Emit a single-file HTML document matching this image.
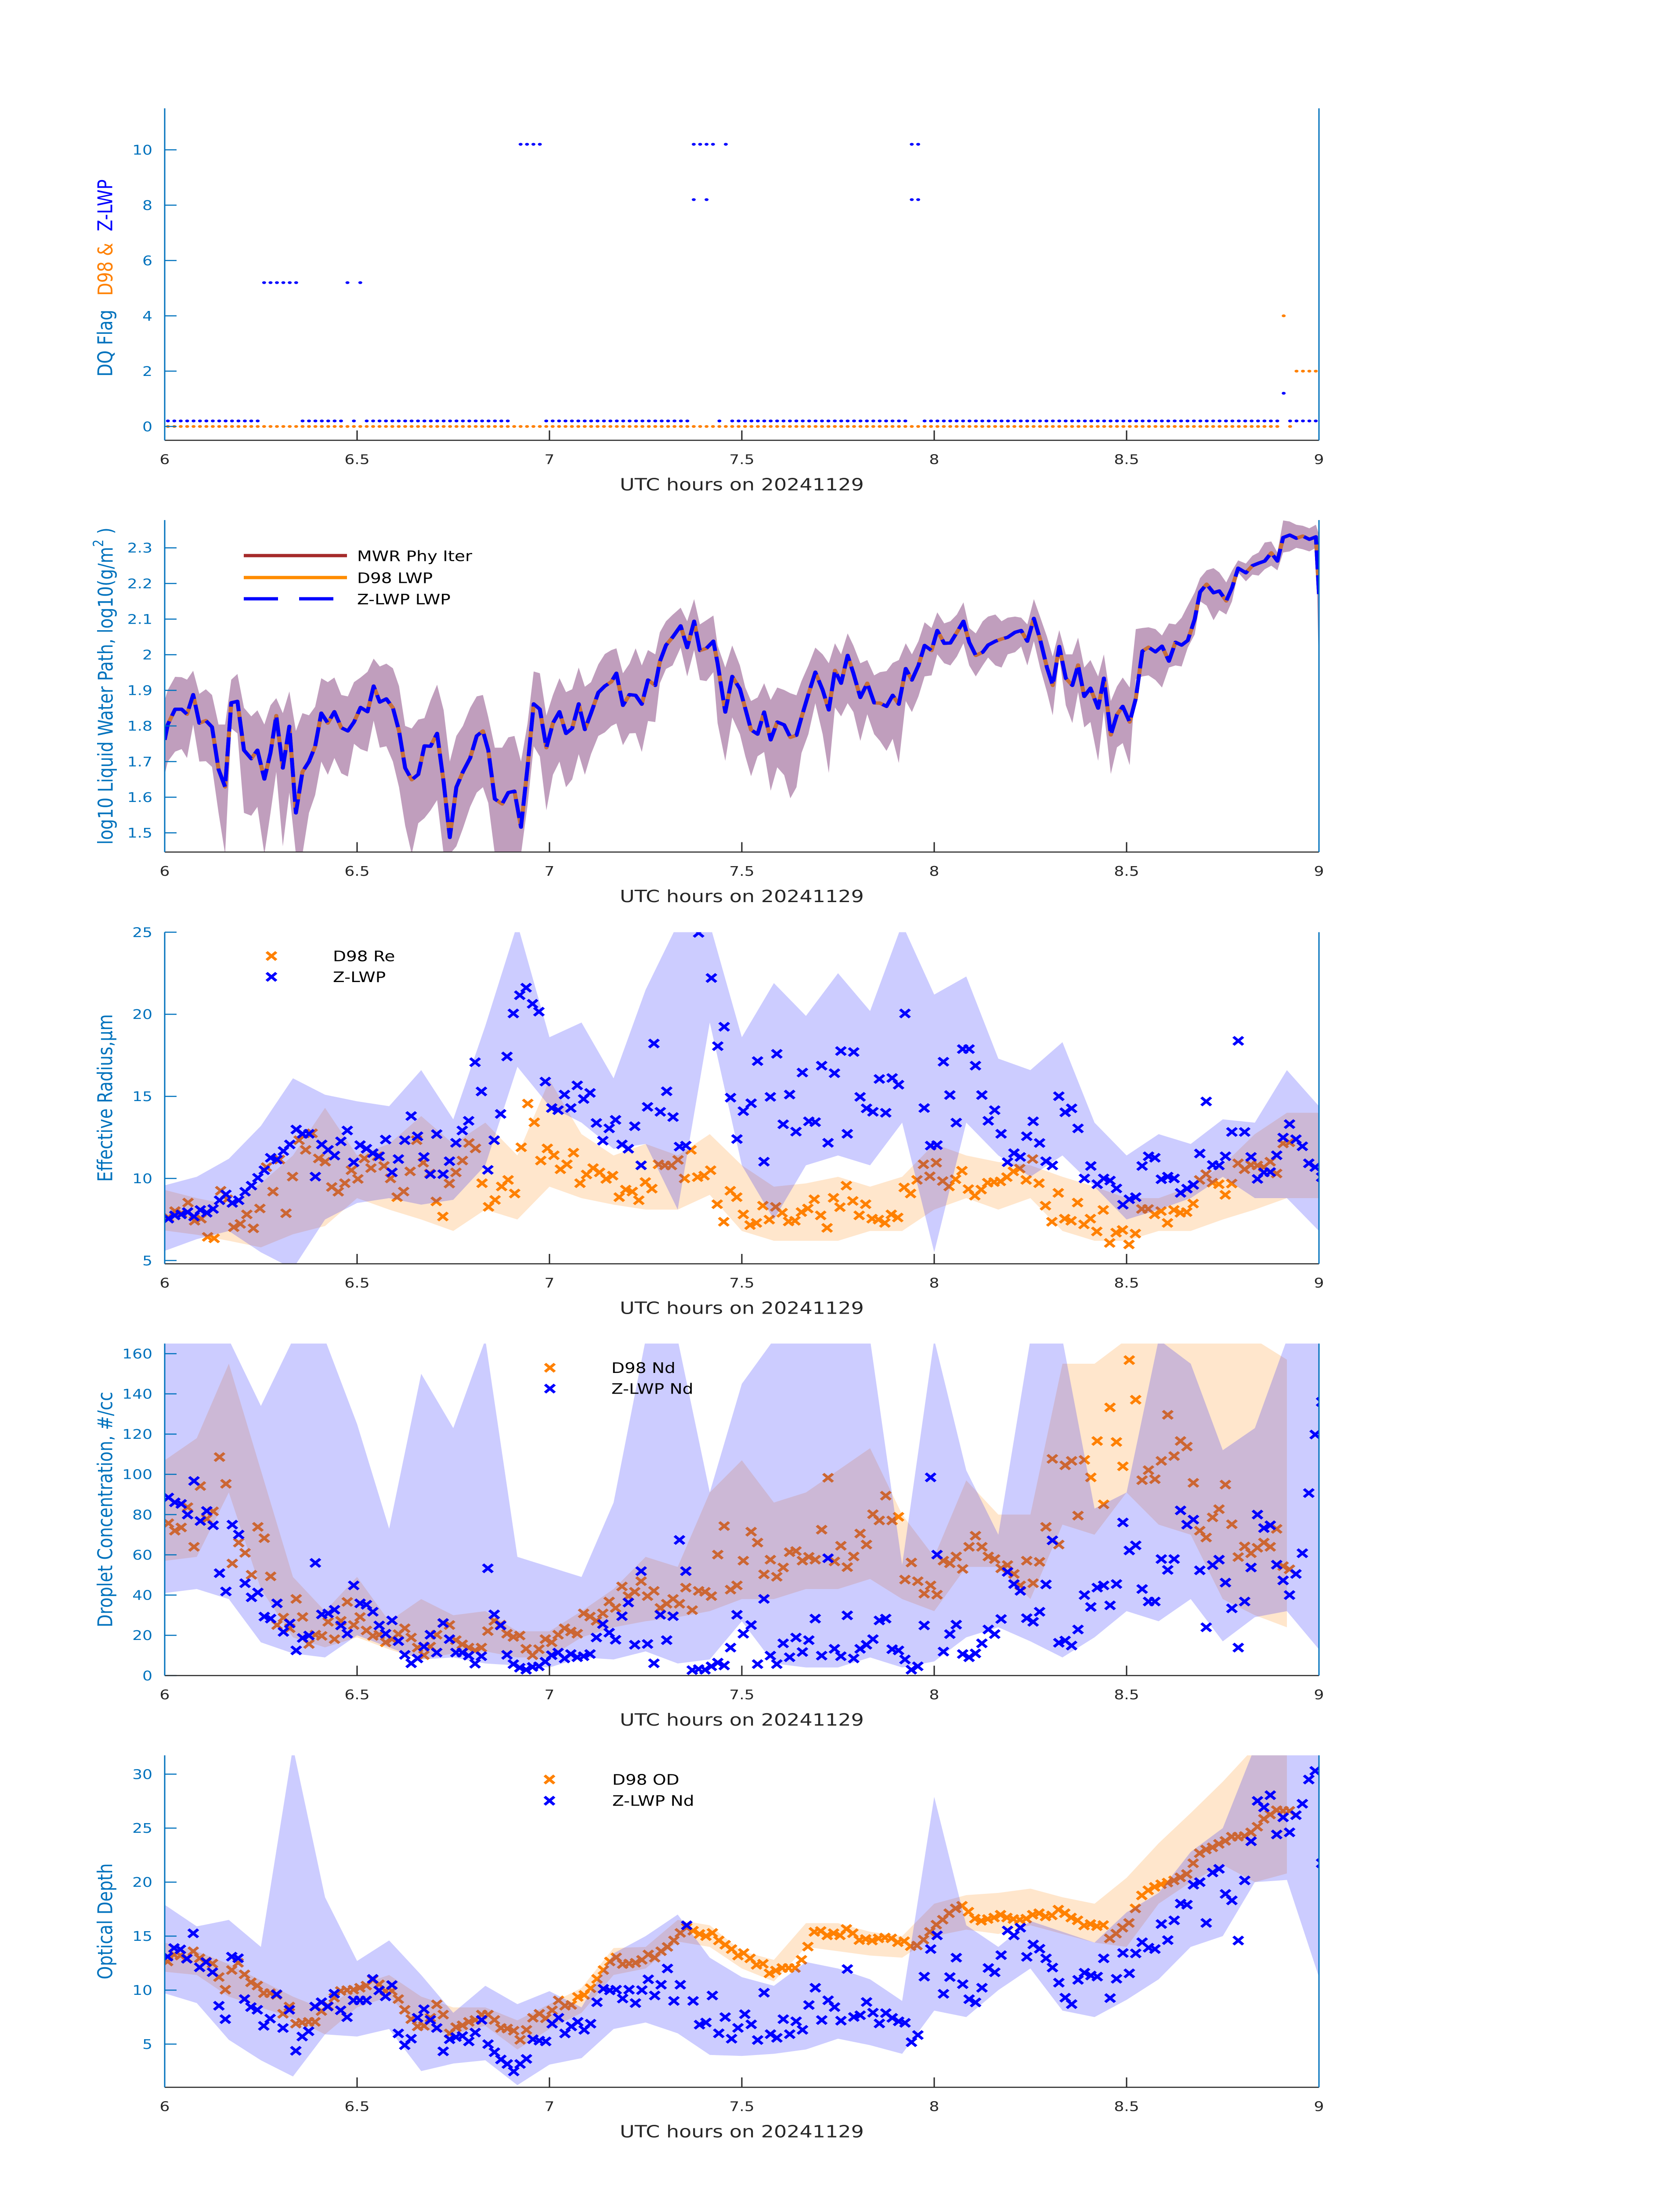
<!DOCTYPE html>
<html>
<head>
<meta charset="utf-8">
<style>
html,body{margin:0;padding:0;background:#ffffff;width:100%;height:100%;overflow:hidden;}
svg{display:block;width:100vw;height:100vh;}
text{font-family:"DejaVu Sans","Liberation Sans",sans-serif;}
</style>
</head>
<body>
<svg id="chart" viewBox="0 0 3825 6000" preserveAspectRatio="none" xmlns="http://www.w3.org/2000/svg"></svg>
<script>
// ---------------- DATA ----------------
const d98Flag = [0,0,0,0,0,0,0,0,0,0, 0,0,0,0,0,0,0,0,0,0, 0,0,0,0,0,0,0,0,0,0, 0,0,0,0,0,0,0,0,0,0,
0,0,0,0,0,0,0,0,0,0, 0,0,0,0,0,0,0,0,0,0, 0,0,0,0,0,0,0,0,0,0, 0,0,0,0,0,0,0,0,0,0,
0,0,0,0,0,0,0,0,0,0, 0,0,0,0,0,0,0,0,0,0, 0,0,0,0,0,0,0,0,0,0, 0,0,0,0,0,0,0,0,0,0,
0,0,0,0,0,0,0,0,0,0, 0,0,0,0,0,0,0,0,0,0, 0,0,0,0,0,0,0,0,0,0, 0,0,0,0,0,0,0,0,0,0,
0,0,0,0,0,0,0,0,0,0, 0,0,0,0, 4,0,2,2,2,2,4];
const zlwpFlag = [0,0,0,0,0,0,0,0,0,0, 0,0,0,0,0, 5,5,5,5,5,5, 0,0,0,0,0,0,0, 5,0,5,
0,0,0,0,0,0,0,0,0,0, 0,0,0,0,0,0,0,0,0,0, 0,0,0, null, 10,10,10,10,
0,0,0,0,0,0,0,0,0,0, 0,0,0,0,0,0,0,0,0,0, 0,0,0, 10,10,10,10, 0, 10,
0,0,0,0,0,0,0,0,0,0, 0,0,0,0,0,0,0,0,0,0, 0,0,0,0,0,0,0,0, 10,10,
0,0,0,0,0,0,0,0,0,0, 0,0,0,0,0,0,0,0,0,0, 0,0,0,0,0,0,0,0,0,0, 0,0,0,0,0,0,0,0,0,0,
0,0,0,0,0,0,0,0,0,0, 0,0,0,0,0,0, 1, 0,0,0,0,0, 1];
const zlwpFlagExtraIdx = [82,84,116,117];
const zlwpFlagExtraVal = [8,8,8,8];
const d98FlagExtraIdx = [180];
const d98FlagExtraVal = [2];

const lwpTime = [6.000,6.008,6.027,6.044,6.058,6.074,6.090,6.107,6.123,6.140,6.157,6.173,6.189,6.206,6.225,6.241,6.259,6.275,6.290,6.307,6.324,6.341,6.358,6.375,6.391,6.407,6.424,6.441,6.459,6.476,6.492,6.509,6.527,6.543,6.559,6.576,6.593,6.609,6.625,6.642,6.659,6.675,6.691,6.708,6.725,6.741,6.758,6.775,6.794,6.811,6.827,6.841,6.858,6.877,6.893,6.909,6.926,6.943,6.959,6.975,6.992,7.009,7.026,7.043,7.059,7.076,7.092,7.108,7.127,7.144,7.161,7.174,7.191,7.208,
7.224,7.240,7.256,7.275,7.287,7.303,7.320,7.341,7.358,7.376,7.391,7.408,7.426,7.437,7.457,7.475,7.495,7.509,7.524,7.541,7.558,7.575,7.592,7.610,7.626,7.642,7.655,7.673,7.691,7.710,7.726,7.742,7.758,7.775,7.790,7.808,7.826,7.844,7.859,7.876,7.892,7.908,7.926,7.942,7.959,7.975,7.993,8.008,8.026,8.042,8.059,8.076,
8.091,8.108,8.126,8.140,8.159,8.175,8.191,8.210,8.226,8.242,8.259,8.275,8.293,8.308,8.325,8.342,8.359,8.374,8.390,8.406,8.426,8.441,8.459,8.475,8.490,8.508,8.524,8.541,8.557,8.575,8.592,8.610,8.627,8.643,8.659,8.677,8.691,8.708,8.726,8.741,8.759,8.774,8.790,8.810,8.827,8.843,8.859,8.876,8.892,8.907,8.924,8.941,8.958,8.975,8.992,9.000];
const lwpD98 = [1.761,1.804,1.847,1.847,1.833,1.888,1.808,1.815,1.797,1.678,1.629,1.865,1.869,1.732,1.708,1.732,1.651,1.725,1.829,1.682,1.799,1.556,1.671,1.700,1.743,1.836,1.808,1.840,1.795,1.786,1.811,1.852,1.840,1.912,1.867,1.876,1.851,1.786,1.682,1.649,1.664,1.744,1.743,1.779,1.642,1.487,1.628,1.671,1.710,1.772,1.786,1.732,1.595,1.581,1.613,1.617,1.516,1.685,1.862,1.847,1.739,1.808,1.840,1.779,1.793,1.862,1.790,1.836,1.894,1.912,1.924,1.948,1.858,1.888,
1.886,1.861,1.929,1.914,1.981,2.027,2.049,2.081,2.020,2.094,2.012,2.018,2.038,1.976,1.839,1.939,1.904,1.849,1.789,1.777,1.839,1.761,1.811,1.803,1.768,1.774,1.824,1.889,1.951,1.901,1.845,1.956,1.920,1.998,1.948,1.880,1.920,1.865,1.864,1.855,1.886,1.861,1.961,1.929,1.970,2.026,2.012,2.068,2.032,2.033,2.063,2.094,
2.035,1.998,2.007,2.027,2.038,2.044,2.049,2.063,2.068,2.038,2.102,2.044,1.964,1.914,2.023,1.934,1.914,1.971,1.883,1.906,1.850,1.934,1.775,1.832,1.855,1.811,1.877,2.010,2.021,2.008,2.024,1.982,2.035,2.027,2.040,2.100,2.176,2.198,2.174,2.179,2.151,2.188,2.243,2.230,2.250,2.257,2.263,2.286,2.263,2.329,2.336,2.327,2.333,2.324,2.331,2.170];
const lwpZ = [1.761,1.804,1.847,1.847,1.833,1.888,1.808,1.815,1.797,1.678,1.629,1.865,1.869,1.732,1.708,1.732,1.651,1.725,1.829,1.682,1.799,1.556,1.671,1.700,1.743,1.836,1.808,1.840,1.795,1.786,1.811,1.852,1.840,1.912,1.867,1.876,1.851,1.786,1.682,1.649,1.664,1.744,1.743,1.779,1.642,1.487,1.628,1.671,1.710,1.772,1.786,1.732,1.595,1.581,1.613,1.617,1.516,1.685,1.862,1.847,1.739,1.808,1.840,1.779,1.793,1.862,1.790,1.836,1.894,1.912,1.924,1.948,1.858,1.888,
1.886,1.861,1.929,1.914,1.981,2.027,2.049,2.081,2.020,2.094,2.012,2.018,2.038,1.976,1.839,1.939,1.904,1.849,1.789,1.777,1.839,1.761,1.811,1.803,1.768,1.774,1.824,1.889,1.951,1.901,1.845,1.956,1.920,1.998,1.948,1.880,1.920,1.865,1.864,1.855,1.886,1.861,1.961,1.929,1.970,2.026,2.012,2.068,2.032,2.033,2.063,2.094,
2.035,1.998,2.007,2.027,2.038,2.044,2.049,2.063,2.068,2.038,2.102,2.044,1.964,1.914,2.023,1.934,1.914,1.971,1.883,1.906,1.850,1.934,1.775,1.832,1.855,1.811,1.877,2.010,2.021,2.008,2.024,1.982,2.035,2.027,2.040,2.100,2.176,2.198,2.174,2.179,2.151,2.188,2.243,2.230,2.250,2.257,2.263,2.286,2.263,2.329,2.336,2.327,2.333,2.324,2.331,2.170];
const lwpUpper = [1.872,1.901,1.938,1.937,1.930,1.955,1.890,1.903,1.887,1.804,1.804,1.930,1.946,1.851,1.827,1.844,1.804,1.858,1.878,1.836,1.897,1.786,1.836,1.830,1.854,1.934,1.923,1.936,1.887,1.883,1.923,1.936,1.952,1.989,1.967,1.975,1.962,1.912,1.800,1.793,1.818,1.822,1.872,1.916,1.844,1.700,1.772,1.800,1.851,1.883,1.887,1.825,1.739,1.739,1.768,1.772,1.700,1.807,1.953,1.948,1.829,1.887,1.934,1.895,1.903,1.964,1.910,1.923,1.973,2.002,2.013,2.018,1.948,1.975,
2.018,1.970,2.013,2.001,2.063,2.094,2.112,2.132,2.094,2.156,2.085,2.097,2.110,2.026,1.964,2.026,1.970,1.908,1.870,1.880,1.920,1.873,1.908,1.901,1.892,1.886,1.926,1.970,2.020,2.001,1.976,2.032,2.001,2.060,2.026,1.976,1.985,1.942,1.951,1.954,1.977,1.985,2.032,2.001,2.038,2.091,2.075,2.119,2.088,2.094,2.113,2.147,
2.075,2.060,2.094,2.107,2.113,2.094,2.104,2.107,2.104,2.085,2.156,2.107,2.051,1.995,2.069,2.001,2.001,2.048,1.964,1.985,1.939,2.001,1.870,1.911,1.936,1.908,2.072,2.075,2.077,2.072,2.054,2.088,2.085,2.104,2.138,2.175,2.215,2.237,2.243,2.231,2.203,2.236,2.265,2.256,2.278,2.287,2.315,2.318,2.287,2.377,2.374,2.365,2.362,2.355,2.365,2.337];
const lwpLower = [1.663,1.700,1.728,1.735,1.710,1.804,1.700,1.701,1.685,1.556,1.440,1.793,1.779,1.556,1.548,1.573,1.440,1.556,1.671,1.462,1.613,1.440,1.440,1.556,1.606,1.700,1.663,1.710,1.667,1.658,1.750,1.735,1.728,1.815,1.739,1.743,1.700,1.628,1.520,1.440,1.527,1.541,1.563,1.592,1.440,1.440,1.462,1.512,1.573,1.613,1.628,1.584,1.440,1.440,1.440,1.440,1.440,1.577,1.743,1.714,1.563,1.663,1.700,1.628,1.650,1.721,1.663,1.721,1.772,1.782,1.800,1.807,1.746,1.779,
1.780,1.727,1.814,1.811,1.920,1.960,1.970,2.020,1.939,2.013,1.929,1.926,1.951,1.808,1.702,1.824,1.777,1.715,1.659,1.715,1.727,1.618,1.684,1.662,1.597,1.628,1.724,1.777,1.864,1.777,1.668,1.852,1.827,1.864,1.839,1.758,1.833,1.777,1.758,1.730,1.764,1.696,1.870,1.839,1.883,1.939,1.942,2.001,1.976,1.970,1.995,2.032,
1.970,1.939,1.970,1.992,1.970,1.964,2.001,2.007,2.023,1.970,2.038,1.964,1.895,1.830,1.995,1.858,1.808,1.895,1.796,1.811,1.702,1.842,1.665,1.740,1.752,1.690,1.932,1.939,1.942,1.929,1.908,1.964,1.970,1.967,2.020,2.057,2.150,2.138,2.097,2.125,2.113,2.150,2.231,2.206,2.225,2.222,2.240,2.250,2.237,2.287,2.290,2.300,2.296,2.290,2.300,1.950];

const reD98A = [7.62,8.01,7.88,8.53,7.42,7.55,6.44,6.35,9.25,8.73,7.03,7.23,7.81,6.96,8.17,10.69,9.20,11.15,7.88,10.11,12.33,11.74,12.75,11.22,11.02,9.48,9.19,9.71,10.50,9.97,11.22,10.63,11.35,10.76,10.00,8.86,9.20,10.43,12.33,10.96,10.30,8.60,7.68,9.69,10.37,11.09,12.16,11.83,9.71,8.27,8.69,9.51,9.91,9.08,11.90,14.56,13.42,11.09,11.83,11.41,10.56,10.86,11.57,9.71,10.24,10.63,10.37,9.97,10.17,8.86,9.32,9.20,8.67,9.78,9.38,10.86,10.79,10.79,11.13,10.00,11.74,10.08,10.17,10.50,8.43,7.36,9.25,8.86,7.81];
const reD98B = [7.16,7.29,8.34,7.49,8.27,7.91,7.38,7.42,7.95,8.17,8.73,7.75,6.99,8.82,8.25,9.56,8.63,7.75,8.43,7.55,7.49,7.29,7.81,7.62,9.45,9.08,9.91,10.86,10.13,10.96,9.84,9.51,9.95,10.47,9.35,8.95,9.32,9.74,9.78,9.82,10.08,10.43,10.60,9.91,11.18,9.71,8.34,7.36,9.12,7.55,7.42,8.53,7.20,7.55,6.77,8.08,6.07,6.70,6.86,5.98,6.64,8.14,8.14,7.81,8.01,7.29,8.08,7.91,7.95,8.47,9.91,10.26,9.74,9.65,9.00,9.69,10.92,10.56,10.82,10.79,10.69,11.02,10.30,12.13,12.20];
const reZA = [7.55,7.75,7.81,7.95,7.68,8.08,7.91,8.14,8.67,9.03,8.51,8.67,9.19,9.56,10.04,10.50,11.26,11.15,11.67,12.07,12.98,12.72,12.72,10.11,12.07,11.74,11.39,12.26,12.92,10.98,12.03,11.81,11.54,11.35,12.37,10.37,11.18,12.33,13.80,12.57,11.31,10.26,12.70,10.26,11.05,12.17,12.92,13.51,17.08,15.30,10.52,12.33,13.93,17.43,20.05,21.16,21.62,20.64,20.16,15.90,14.29,14.16,15.11,14.29,15.67,14.84,15.21,13.38,12.30,13.05,13.57,12.07,11.81,13.18,10.80,14.36,18.22,14.06,15.31,13.74,11.94,12.00,null,24.96,null,22.21,18.06,19.24,14.92,12.40,14.10];
const reZB = [14.58,17.15,11.02,14.97,17.59,13.30,15.11,12.85,16.45,13.48,13.43,16.87,12.17,16.41,17.76,12.72,17.70,14.97,14.27,14.06,16.06,14.00,16.12,15.71,20.05,null,null,14.29,12.00,12.03,17.11,15.08,13.40,17.88,17.88,16.87,15.08,13.51,14.16,12.72,10.99,11.54,11.31,12.57,13.48,12.16,11.05,10.79,15.01,14.03,14.27,13.05,10.00,10.76,9.65,10.00,9.87,9.39,8.40,8.73,8.86,10.76,11.35,11.26,9.95,10.11,10.00,9.12,9.38,9.61,11.52,14.69,10.82,10.79,11.35,12.83,18.38,12.83,11.31,9.97,10.37,10.39,11.41,12.49,13.31,12.39,11.96,10.92,10.69,10.08];
const reD98Up = [9.3,8.8,8.4,9.7,11.4,14.3,11.4,12.1,13.8,12.1,13.4,11.4,16,12.7,11.4,12.1,11.4,12.7,10.8,9.5,9.7,10.1,9.5,10.1,12.1,11.4,11.0,10.8,10.1,9.5,8.8,8.8,9.5,10.8,12.7,14,14];
const reD98Lo = [6.83,6.57,6.2,5.8,6.6,7.1,8.8,8.1,7.5,6.8,8.1,7.5,9.5,8.8,8.4,8.1,8.1,9.0,6.8,6.2,6.2,6.2,6.8,6.8,8.1,8.8,8.1,8.8,6.8,6.2,6.2,6.8,6.8,7.5,8.1,8.8,8.8];
const reZUp = [9.58,10.1,11.2,13.2,16.1,15.1,14.7,14.4,16.6,13.6,19.3,25.5,18.6,19.5,16.1,21.5,25.5,25.5,18.6,21.9,19.9,22.5,20.2,25.5,21.2,22.3,17.3,16.6,18.3,13.4,11.4,12.7,12.1,13.6,13.4,16.6,14.4];
const reZLo = [5.59,6.3,6.8,5.5,4.5,7.5,8.5,8.8,8.4,8.7,10.8,16.8,14.4,13.4,11.8,12.1,8.1,19.5,10.8,7.5,10.8,11.4,10.8,13.4,5.5,13.4,11.4,10.1,11.4,9.5,7.5,8.1,8.8,10.1,8.8,8.8,6.8];

const ndD98A = [75.7,72,73.6,83.7,64,94.2,77.9,81.6,108.6,95.3,55.7,66.1,61,50.1,73.9,68.3,49.3,25.1,28.8,23.5,38.1,29.1,15.7,20.3,19.7,26.7,18.1,27.2,36.6,25.1,29.1,22.4,19.7,20.3,16.5,18.1,20.6,23.5,18.9,13.9,10.1,14.4,20.3,26.1,25.1,17.6,15.5,13.9,12.5,13.9,22.1,27.2,25.3,20.8,19.2,19.9,13.3,10.1,13.1,18.1,16.5,20.3,23.5,21.9,20.8,30.9,29.3,27.2,30.9,36.8,33.6,44.3,39.5,41.6,46.9,39.5,42.1,33.6,35.7,38.1,35.7,43.7,32.5,42.1,41.6,39.5,60.1,74.3,42.7,44.8,57.1];
const ndD98B = [71.5,66.1,50.3,57.6,49.1,53.7,61.3,61.9,57.1,59,57.6,72.5,98.3,56.7,64.5,53.9,59.2,70.6,65.1,80.2,77.1,89.4,77.1,78.9,47.7,56.2,46.9,40.7,44.8,40.2,57.1,55.8,59.2,53,64,69.5,64,59.2,57.9,53.3,54.9,50.5,44.8,57.1,45.9,56.5,73.9,107.7,65.1,104.5,106.7,79.5,107.2,98.5,116.6,85.1,133.3,116.1,104,156.8,137.1,97.1,102.1,97.6,106.7,129.6,109.1,116.6,113.8,95.8,72,68.6,78.6,82.7,94.9,75.2,58.9,64.2,60.8,63.5,66.1,64,72.9,54.4,52.8];
const ndZA = [88.5,86.1,85.3,80,96.7,76.8,81.8,74.7,50.9,41.8,75,70.1,45.9,38.9,41.3,29.3,28.3,35.9,21.7,25.9,12.5,18.7,19.9,56,30.4,30.9,32.7,24.9,20.8,44.8,35.9,35.2,31.7,24.9,20.8,27.4,17.1,10.3,6.1,8.5,14.4,20.3,11.4,26.1,18.1,11.4,11.4,9.9,5.9,9.6,53.3,30.4,24.9,10.3,5.7,3.9,2.9,4.3,4.6,6.9,10.1,11.4,8.5,10.7,9.1,9.6,10.7,18.9,25.6,21.3,17.8,29.5,36.3,15.3,51.9,15.7,6.1,30.2,17.6,29.5,67.4,51.9,2.7,3.2,2.9,4.6,6.4,5,13.9,30.2,20.8];
const ndZB = [25.1,5.7,38.1,9.9,5.7,16,9.1,18.9,11.7,17.6,28.3,9.9,58.3,13.3,9.6,29.9,8.5,13.3,15.3,18.1,27.4,28.3,13.1,12.5,8,2.9,4.6,24.9,98.5,60.1,11.9,20.6,25.3,10.7,9.1,11,16,22.9,20.6,28.1,51.5,45.5,42.1,28.5,26.7,31.7,45.3,67.2,16.3,17.4,14.9,22.9,40,34.1,43.7,44.8,34.9,45.5,76.1,62.2,64.7,43,36.8,36.8,57.9,52.5,57.9,82.1,75,77.5,52.3,24,54.9,57.6,46.2,33.4,13.9,36.8,53.7,80,73.3,74.7,55.1,47.3,40,50.5,60.8,90.7,119.8,136];
const ndD98Up = [107,118,155,102,49,32,49,27,38,30,32,22,22,32,43,59,54,91,107,86,91,102,113,80,59,97,80,80,155,155,170,170,170,170,170,157,null];
const ndD98Lo = [57,59,91,43,19,14,19,13,8,11,12,9,9,19,24,27,29,32,38,38,43,43,48,38,32,54,54,38,75,70,91,75,70,38,30,24,null];
const ndZUp = [170,170,170,134,170,170,125,73,150,123,170,59,54,49,86,170,170,91,145,170,170,170,170,55,170,102,70,170,170,83,91,170,155,112,123,170,170];
const ndZLo = [41,43,38,16.5,11,9,20,14,8,9,6,5,4,9,8,12,6,8,27,6,4,4,9,4,7,19,24,17,9,19,32,27,38,17,29,32,13];

const odD98A = [12.65,13.28,13.2,12.95,13.6,12.95,12.65,12.46,11.21,10.04,11.86,12.53,11.46,10.72,10.42,9.72,9.72,9.55,7.81,8.48,6.89,6.99,7.06,7.06,8.06,8.55,9.3,9.92,10,10.04,10.22,10.42,10.96,10.54,9.92,9.92,9.17,8.18,7.31,6.64,6.69,7.44,8.68,7.73,5.99,6.57,6.74,7.06,7.24,7.73,7.73,7.24,6.49,6.44,6.24,5.4,6.32,7.44,7.81,7.39,8.13,9.05,8.55,8.63,9.37,9.55,10.17,11.04,11.86,12.65,13.03,12.41,12.46,12.53,12.8,13.3,13.0,13.6,14.0,14.6,15.3,15.8,15.5,15.2,15.0,15.3,14.6,14.2,13.8,13.2];
const odD98B = [13.44,12.94,12.34,12.44,11.55,11.81,12.05,12.05,12.05,12.8,14.03,15.39,15.47,15.07,15.27,15.07,15.66,15.27,14.63,14.73,14.59,14.79,14.87,14.79,14.43,14.53,14.07,14.13,14.67,15.39,16.06,16.52,17.12,17.57,17.81,17.26,16.62,16.42,16.58,16.72,16.98,16.72,16.58,16.52,16.62,16.98,17.12,16.82,16.92,17.45,17.12,16.72,16.46,15.98,16.12,15.92,16.02,14.79,15.23,15.78,16.22,17.57,18.77,19.24,19.56,19.8,19.96,20.16,20.44,20.75,21.75,22.68,23.02,23.22,23.54,23.82,24.21,24.21,24.27,24.61,25.13,25.86,26.26,26.66,26.6,26.6];
const odZA = [13.1,13.9,13.77,12.9,15.26,12.11,12.6,11.66,8.55,7.31,13.1,12.95,9.17,8.43,8.18,6.69,7.36,9.62,6.49,8.18,4.38,5.7,6.19,8.48,8.88,8.48,9.67,8.13,7.49,9.05,9.05,9.05,11.04,9.97,9.42,10.47,5.99,4.9,5.5,7.44,8.23,7.24,6.49,4.33,5.45,5.65,5.75,5.25,6.07,7.24,5,4.25,3.58,3.16,2.47,3.16,3.63,5.45,5.32,5.25,6.89,7.44,5.99,6.64,7.06,6.32,6.89,8.88,10.12,9.97,10.04,9.22,10.04,8.8,10.0,11.0,9.5,10.5,12.0,9.0,10.5,16.0,9.0,6.8,7.0,9.5,6.0,7.5,5.5,6.5];
const odZB = [7.77,6.83,5.38,9.76,5.92,5.58,7.31,5.92,7.11,6.32,8.62,10.22,7.23,9.06,8.43,7.17,11.95,7.51,7.67,8.9,7.91,6.91,7.87,7.43,7.11,6.97,5.18,5.84,11.25,13.8,15.07,9.66,11.21,13,10.55,9.16,8.86,10.22,12.05,11.65,13.24,15.52,15.07,15.78,13.08,14.23,13.83,12.94,12.09,10.69,9.3,8.7,10.95,11.61,11.35,11.25,12.94,9.26,11.05,13.44,11.55,13.4,14.43,13.93,13.8,16.12,14.63,16.46,18.01,17.91,19.76,20,16.22,20.89,21.23,18.91,18.31,14.59,20.16,23.78,27.52,26.92,28.05,24.41,26,24.61,26.2,27.26,29.5,30.3,21.75];
const odD98Up = [14.4,13.6,12.4,10.9,9.4,8.2,10.4,11.4,9.4,8.4,8.4,7.2,8.7,10.2,13.9,14,16.5,16,13.6,12.8,16.2,16.2,15.4,15,18,18.8,19,19.4,18.6,18,20.4,23.6,26.4,29.3,32.5,32.5,null];
const odD98Lo = [11.7,11.4,9.4,8.4,7.4,5.9,8.4,9.4,6.4,5.9,6.7,4.5,6.4,7.9,11.4,12,14.5,14,12,10.8,14,13.6,13.2,13,15,15.6,15.2,16,15.2,14.4,14,18,20,21.6,20,20.8,null];
const odZUp = [17.9,15.9,16.5,14,32.5,18.6,12.7,14.6,11.4,7.9,10.4,8.7,9.9,8.4,13.4,15,17,13,11.2,10.4,12.6,12,11,9,27.9,16,14,16.4,15.4,14.4,17.2,19,22.8,25,32.5,32.5,32.5];
const odZLo = [9.7,8.8,5.4,3.5,2.0,5.9,5.7,6.4,2.5,3.2,3.5,1.2,3.1,3.7,6.4,7,6,4,3.9,4.1,4.5,5.5,4.9,4.1,8.1,7.5,10,12,8.1,7.5,9.1,11,14,15,20,20.2,11.2];

const xTicks = [6,6.5,7,7.5,8,8.5,9];
const xTickLabels = ['6','6.5','7','7.5','8','8.5','9'];
const p1Ticks = [0,2,4,6,8,10];
const p2Ticks = [1.5,1.6,1.7,1.8,1.9,2.0,2.1,2.2,2.3];
const p2TickLabels = ['1.5','1.6','1.7','1.8','1.9','2','2.1','2.2','2.3'];
const p3Ticks = [5,10,15,20,25];
const p4Ticks = [0,20,40,60,80,100,120,140,160];
const p5Ticks = [5,10,15,20,25,30];

// ---------------- LAYOUT / DRAWING ----------------
const NS = 'http://www.w3.org/2000/svg';
const svg = document.getElementById('chart');
const X0 = 375, X1 = 3003;
const BLUE = '#0000FF', ORANGE = '#FF8000', AXB = '#0072BD', DARK = '#262626';
const panels = [
  {top:296, bot:1203, ymin:-0.5, ymax:11.5},
  {top:1421, bot:2328, ymin:1.446, ymax:2.378},
  {top:2547, bot:3453, ymin:4.8, ymax:25},
  {top:3671, bot:4578, ymin:0, ymax:165},
  {top:4796, bot:5703, ymin:1, ymax:31.74}
];
function xs(h){ return X0 + (h-6)/3*(X1-X0); }
function ys(p,v){ return p.bot - (v-p.ymin)/(p.ymax-p.ymin)*(p.bot-p.top); }
function mk(tag, parent){ const el = document.createElementNS(NS, tag); (parent||svg).appendChild(el); return el; }
function segTimes(n, t0, t1){ const a=[]; for(let i=0;i<n;i++){ a.push(n>1 ? t0+i*(t1-t0)/(n-1) : t0); } return a; }

const defs = mk('defs');
panels.forEach(function(p, k){
  const cp = mk('clipPath', defs);
  cp.setAttribute('id', 'clip'+k);
  const r = mk('rect', cp);
  r.setAttribute('x', X0); r.setAttribute('y', p.top);
  r.setAttribute('width', X1-X0); r.setAttribute('height', p.bot-p.top);
});

function group(k, name){
  const g = mk('g');
  g.setAttribute('clip-path', 'url(#clip'+k+')');
  
  
  return g;
}

function drawBand(g, p, up, lo, color, name){
  let segs = [], cur = [];
  for(let k=0;k<up.length;k++){
    if(up[k]===null || lo[k]===null){ if(cur.length) segs.push(cur); cur=[]; continue; }
    cur.push(k);
  }
  if(cur.length) segs.push(cur);
  segs.forEach(function(s){
    if(s.length<2) return;
    let d = '';
    s.forEach(function(k,j){ d += (j? 'L':'M') + xs(6+5*k/60).toFixed(1) + ' ' + ys(p,Math.min(up[k],p.ymax+2)).toFixed(1); });
    for(let j=s.length-1;j>=0;j--){ const k=s[j]; d += 'L' + xs(6+5*k/60).toFixed(1) + ' ' + ys(p,lo[k]).toFixed(1); }
    d += 'Z';
    const el = mk('path', g);
    el.setAttribute('d', d);
    el.setAttribute('fill', color);
    
    
  });
}

function drawXMarks(g, p, vals, t0, t1, color, name){
  const ts = segTimes(vals.length, t0, t1);
  let d = '';
  const s = 11;
  vals.forEach(function(v,i){
    if(v===null) return;
    const x = xs(ts[i]), y = ys(p,v);
    d += 'M'+(x-s).toFixed(1)+' '+(y-s).toFixed(1)+'L'+(x+s).toFixed(1)+' '+(y+s).toFixed(1)+'M'+(x-s).toFixed(1)+' '+(y+s).toFixed(1)+'L'+(x+s).toFixed(1)+' '+(y-s).toFixed(1);
  });
  const el = mk('path', g);
  el.setAttribute('d', d);
  el.setAttribute('stroke', color);
  el.setAttribute('stroke-width', '7');
  el.setAttribute('fill', 'none');
  
  
}

function drawAxes(k, ticks, labels, name){
  const p = panels[k];
  const g = mk('g');
  
  
  ticks.forEach(function(v,i){
    const y = ys(p,v);
    const t = mk('line', g);
    t.setAttribute('x1', X0); t.setAttribute('x2', X0+27); t.setAttribute('y1', y); t.setAttribute('y2', y);
    t.setAttribute('stroke', AXB); t.setAttribute('stroke-width', '3');
    
    
    const tx = mk('text', g);
    tx.setAttribute('x', 347); tx.setAttribute('y', y+13);
    tx.setAttribute('text-anchor', 'end'); tx.setAttribute('font-size', '36'); tx.setAttribute('fill', AXB);
    tx.textContent = labels ? labels[i] : String(v);
    
    
  });
  xTicks.forEach(function(h,i){
    const x = xs(h);
    const t = mk('line', g);
    t.setAttribute('x1', x); t.setAttribute('x2', x); t.setAttribute('y1', p.bot); t.setAttribute('y2', p.bot-27);
    t.setAttribute('stroke', DARK); t.setAttribute('stroke-width', '3');
    
    
    const tx = mk('text', g);
    tx.setAttribute('x', x); tx.setAttribute('y', p.bot+65);
    tx.setAttribute('text-anchor', 'middle'); tx.setAttribute('font-size', '36'); tx.setAttribute('fill', DARK);
    tx.textContent = xTickLabels[i];
    
    
  });
  const bx = mk('line', g);
  bx.setAttribute('x1', X0); bx.setAttribute('x2', X1); bx.setAttribute('y1', p.bot); bx.setAttribute('y2', p.bot);
  bx.setAttribute('stroke', DARK); bx.setAttribute('stroke-width', '3');
  
  
  const la = mk('line', g);
  la.setAttribute('x1', X0); la.setAttribute('x2', X0); la.setAttribute('y1', p.top); la.setAttribute('y2', p.bot);
  la.setAttribute('stroke', AXB); la.setAttribute('stroke-width', '3');
  
  
  const ra = mk('line', g);
  ra.setAttribute('x1', X1); ra.setAttribute('x2', X1); ra.setAttribute('y1', p.top); ra.setAttribute('y2', p.bot);
  ra.setAttribute('stroke', AXB); ra.setAttribute('stroke-width', '3');
  
  
  const xt = mk('text', g);
  xt.setAttribute('x', (X0+X1)/2); xt.setAttribute('y', p.bot+137);
  xt.setAttribute('text-anchor', 'middle'); xt.setAttribute('font-size', '46'); xt.setAttribute('fill', DARK);
  xt.textContent = 'UTC hours on 20241129';
  
  
}

function yTitle(k, txt, name){
  const p = panels[k];
  const cy = (p.top+p.bot)/2;
  const t = mk('text');
  t.setAttribute('x', 240); t.setAttribute('y', cy);
  t.setAttribute('transform', 'rotate(-90 240 '+cy+')');
  t.setAttribute('text-anchor', 'middle'); t.setAttribute('dominant-baseline', 'central');
  t.setAttribute('font-size', '46'); t.setAttribute('fill', AXB);
  t.textContent = txt;
  
  
  return t;
}

function legendX(x, y, color, label, tx, name){
  const m = mk('path');
  m.setAttribute('d', 'M'+(x-11)+' '+(y-11)+'L'+(x+11)+' '+(y+11)+'M'+(x-11)+' '+(y+11)+'L'+(x+11)+' '+(y-11));
  m.setAttribute('stroke', color); m.setAttribute('stroke-width', '7'); m.setAttribute('fill', 'none');
  
  
  const t = mk('text');
  t.setAttribute('x', tx); t.setAttribute('y', y+14);
  t.setAttribute('font-size', '39'); t.setAttribute('fill', '#000000');
  t.textContent = label;
  
  
}

// ---- Panel 1 ----
(function(){
  const p = panels[0];
  const g = group(0, 'dq-flag-plot');
  function dots(vals, off, color, name, idxs){
    vals.forEach(function(v,j){
      if(v===null) return;
      const i = idxs ? idxs[j] : j;
      const c = mk('ellipse', g);
      c.setAttribute('cx', xs(6+(i+0.5)/60)); c.setAttribute('cy', ys(p, v+off));
      c.setAttribute('rx', 4.5); c.setAttribute('ry', 3.8); c.setAttribute('fill', color);
      
      
    });
  }
  dots(d98Flag, 0, ORANGE, 'd98-flag-point');
  dots(d98FlagExtraVal, 0, ORANGE, 'd98-flag-point', d98FlagExtraIdx);
  dots(zlwpFlag, 0.2, BLUE, 'zlwp-flag-point');
  dots(zlwpFlagExtraVal, 0.2, BLUE, 'zlwp-flag-point', zlwpFlagExtraIdx);
  drawAxes(0, p1Ticks, null, 'dq-flag-axes');
  const parts = [['DQ Flag', AXB, 1029], ['D98 &', ORANGE, 808], ['Z-LWP', BLUE, 632]];
  parts.forEach(function(q){
    const t = mk('text');
    t.setAttribute('x', 240); t.setAttribute('y', q[2]);
    t.setAttribute('transform', 'rotate(-90 240 '+q[2]+')');
    t.setAttribute('text-anchor', 'start'); t.setAttribute('dominant-baseline', 'central');
    t.setAttribute('font-size', '46'); t.setAttribute('fill', q[1]);
    t.textContent = q[0];
    
    
  });
})();

// ---- Panel 2 ----
(function(){
  const p = panels[1];
  const g = group(1, 'lwp-plot');
  let d = '';
  lwpTime.forEach(function(t,i){ d += (i?'L':'M') + xs(t).toFixed(1)+' '+ys(p,lwpUpper[i]).toFixed(1); });
  for(let i=lwpTime.length-1;i>=0;i--){ d += 'L' + xs(lwpTime[i]).toFixed(1)+' '+ys(p,lwpLower[i]).toFixed(1); }
  d += 'Z';
  const band = mk('path', g);
  band.setAttribute('d', d); band.setAttribute('fill', '#C09EBD');
  
  
  function line(vals, color, w, dash, name){
    let dd = '';
    lwpTime.forEach(function(t,i){ dd += (i?'L':'M') + xs(t).toFixed(1)+' '+ys(p,vals[i]).toFixed(1); });
    const el = mk('path', g);
    el.setAttribute('d', dd); el.setAttribute('stroke', color); el.setAttribute('stroke-width', w);
    el.setAttribute('fill', 'none'); el.setAttribute('stroke-linejoin', 'round');
    if(dash) el.setAttribute('stroke-dasharray', dash);
    
    
  }
  line(lwpD98, '#A52A2A', 9, null, 'mwr-phy-iter-line');
  line(lwpD98, '#C8703A', 9, null, 'd98-lwp-line');
  line(lwpZ, BLUE, 9, '52 16', 'zlwp-lwp-line');
  drawAxes(1, p2Ticks, p2TickLabels, 'lwp-axes');
  const t = yTitle(1, '', 'y-axis-title');
  const a = mk('tspan', t); a.textContent = 'log10 Liquid Water Path, log10(g/m';
   
  const b = mk('tspan', t); b.textContent = '2'; b.setAttribute('font-size', '32'); b.setAttribute('dy', '-16');
   
  const c = mk('tspan', t); c.textContent = ' )'; c.setAttribute('dy', '16');
   
  const rows = [['#A52A2A', null, 'MWR Phy Iter', 1518, 'legend-mwr'], ['#FF8C00', null, 'D98 LWP', 1578, 'legend-d98'], [BLUE, '78 48', 'Z-LWP LWP', 1636, 'legend-zlwp']];
  rows.forEach(function(r){
    const l = mk('line');
    l.setAttribute('x1', 555); l.setAttribute('x2', 790); l.setAttribute('y1', r[3]); l.setAttribute('y2', r[3]);
    l.setAttribute('stroke', r[0]); l.setAttribute('stroke-width', '9');
    if(r[1]) l.setAttribute('stroke-dasharray', r[1]);
    
    
    const tx = mk('text');
    tx.setAttribute('x', 813); tx.setAttribute('y', r[3]+15);
    tx.setAttribute('font-size', '39'); tx.setAttribute('fill', '#000000');
    tx.textContent = r[2];
    
    
  });
})();

// ---- Panel 3 ----
(function(){
  const p = panels[2];
  const g = group(2, 'effective-radius-plot');
  drawBand(g, p, reD98Up, reD98Lo, 'rgba(255,128,0,0.2)', 'd98-re-band');
  drawXMarks(g, p, reD98A, 6.0097, 7.5039, ORANGE, 'd98-re-markers');
  drawXMarks(g, p, reD98B, 7.5213, 8.9234, ORANGE, 'd98-re-markers');
  drawBand(g, p, reZUp, reZLo, 'rgba(0,0,255,0.2)', 'zlwp-re-band');
  drawXMarks(g, p, reZA, 6.0097, 7.5039, BLUE, 'zlwp-re-markers');
  drawXMarks(g, p, reZB, 7.5242, 9.0068, BLUE, 'zlwp-re-markers');
  drawAxes(2, p3Ticks, null, 'effective-radius-axes');
  yTitle(2, 'Effective Radius,\u03BCm', 'y-axis-title');
  legendX(618, 2612, ORANGE, 'D98 Re', 758, 'legend-d98-re');
  legendX(618, 2669, BLUE, 'Z-LWP', 758, 'legend-zlwp-re');
})();

// ---- Panel 4 ----
(function(){
  const p = panels[3];
  const g = group(3, 'droplet-concentration-plot');
  drawBand(g, p, ndD98Up, ndD98Lo, 'rgba(255,128,0,0.2)', 'd98-nd-band');
  drawXMarks(g, p, ndD98A, 6.0097, 7.5039, ORANGE, 'd98-nd-markers');
  drawXMarks(g, p, ndD98B, 7.5242, 8.9234, ORANGE, 'd98-nd-markers');
  drawBand(g, p, ndZUp, ndZLo, 'rgba(0,0,255,0.2)', 'zlwp-nd-band');
  drawXMarks(g, p, ndZA, 6.0097, 7.5039, BLUE, 'zlwp-nd-markers');
  drawXMarks(g, p, ndZB, 7.5242, 9.0068, BLUE, 'zlwp-nd-markers');
  drawAxes(3, p4Ticks, null, 'droplet-concentration-axes');
  yTitle(3, 'Droplet Concentration, #/cc', 'y-axis-title');
  legendX(1252, 3737, ORANGE, 'D98 Nd', 1392, 'legend-d98-nd');
  legendX(1252, 3794, BLUE, 'Z-LWP Nd', 1392, 'legend-zlwp-nd');
})();

// ---- Panel 5 ----
(function(){
  const p = panels[4];
  const g = group(4, 'optical-depth-plot');
  drawBand(g, p, odD98Up, odD98Lo, 'rgba(255,128,0,0.2)', 'd98-od-band');
  drawXMarks(g, p, odD98A, 6.0076, 7.49, ORANGE, 'd98-od-markers');
  drawXMarks(g, p, odD98B, 7.5048, 8.9234, ORANGE, 'd98-od-markers');
  drawBand(g, p, odZUp, odZLo, 'rgba(0,0,255,0.2)', 'zlwp-od-band');
  drawXMarks(g, p, odZA, 6.0076, 7.49, BLUE, 'zlwp-od-markers');
  drawXMarks(g, p, odZB, 7.5078, 9.0068, BLUE, 'zlwp-od-markers');
  drawAxes(4, p5Ticks, null, 'optical-depth-axes');
  yTitle(4, 'Optical Depth', 'y-axis-title');
  legendX(1251, 4862, ORANGE, 'D98 OD', 1394, 'legend-d98-od');
  legendX(1251, 4920, BLUE, 'Z-LWP Nd', 1394, 'legend-zlwp-od');
})();
</script>
</body>
</html>
